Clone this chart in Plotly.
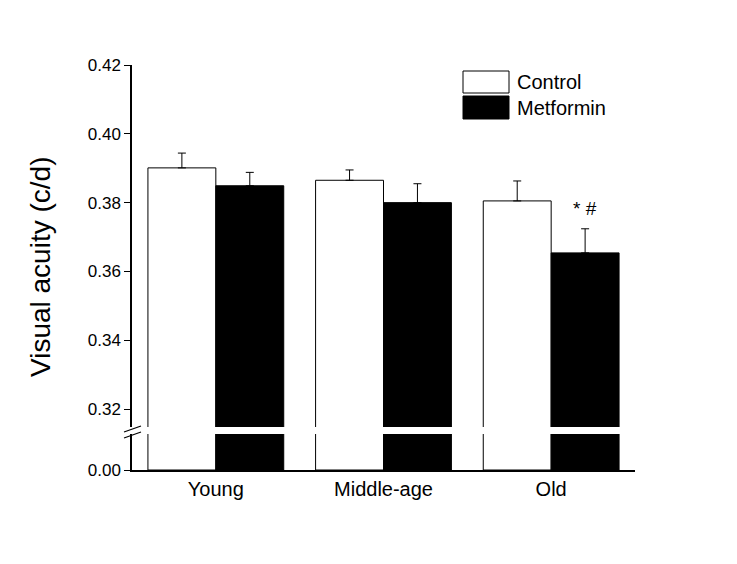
import plotly.graph_objects as go

categories = ["Young", "Middle-age", "Old"]
control_mean = [0.3901, 0.3865, 0.3805]
control_err = [0.0043, 0.0030, 0.0058]
metformin_mean = [0.3849, 0.3800, 0.3654]
metformin_err = [0.0039, 0.0055, 0.0070]
series_names = ["Control", "Metformin"]
upper_ticks = [0.32, 0.34, 0.36, 0.38, 0.40, 0.42]
sig_label = "* #"

FONT = "Arial, Liberation Sans, sans-serif"
W, H = 737, 564
OFF = 8  # page body margin
# desired on-screen plot box: x 132..635, y 65..470
L, T = 132 - OFF, 65 - OFF
R = W - (635 - OFF)
B = H - (470 - OFF)
pw, ph = W - L - R, H - T - B

def px(xs):
    return (xs - OFF - L) / pw

def py(ys):
    return (H - B - (ys - OFF)) / ph

fig = go.Figure()
fills = ["white", "black"]
means = [control_mean, metformin_mean]
errs = [control_err, metformin_err]
for i in range(2):
    fig.add_trace(go.Bar(
        x=categories, y=means[i], name=series_names[i], yaxis="y",
        marker=dict(color=fills[i], line=dict(color="black", width=1)),
        error_y=dict(type="data", symmetric=False, array=errs[i],
                     arrayminus=[0] * len(errs[i]), color="black",
                     thickness=1, width=4),
        offsetgroup=str(i), showlegend=False))
    fig.add_trace(go.Bar(
        x=categories, y=means[i], name=series_names[i], yaxis="y2",
        marker=dict(color=fills[i], line=dict(color="black", width=1)),
        offsetgroup=str(i), showlegend=False))

fig.update_layout(
    width=W, height=H,
    margin=dict(l=L, r=R, t=T, b=B),
    paper_bgcolor="white", plot_bgcolor="white",
    barmode="group", bargap=0.19, bargroupgap=0,
    font=dict(family=FONT, color="black"),
    xaxis=dict(anchor="y2", showline=True, linecolor="black", linewidth=1.5,
               ticks="", showgrid=False, range=[-0.5, 2.5],
               tickfont=dict(size=20, family=FONT)),
    yaxis=dict(domain=[py(427), 1], range=[0.3148, 0.42],
               tickvals=upper_ticks, tickformat=".2f",
               showline=True, linecolor="black", linewidth=1.5,
               ticks="outside", ticklen=6, tickwidth=1, tickcolor="black",
               showgrid=False, zeroline=False,
               tickfont=dict(size=17, family=FONT)),
    yaxis2=dict(domain=[0, py(434)], range=[0, 0.1],
                tickvals=[0], ticktext=["0.00"],
                showline=True, linecolor="black", linewidth=1.5,
                ticks="outside", ticklen=6, tickwidth=1, tickcolor="black",
                showgrid=False, zeroline=False,
                tickfont=dict(size=17, family=FONT)),
    showlegend=False,
)

for y0 in (432, 438):
    fig.add_shape(type="line", xref="paper", yref="paper",
                  x0=px(124), y0=py(y0), x1=px(141), y1=py(y0 - 6),
                  line=dict(color="black", width=1.2))

for i, (y_top, y_bot) in enumerate([(71, 93), (96, 119)]):
    fig.add_shape(type="rect", xref="paper", yref="paper",
                  x0=px(463), x1=px(509), y0=py(y_bot), y1=py(y_top),
                  fillcolor=fills[i], line=dict(color="black", width=1))
    fig.add_annotation(xref="paper", yref="paper", x=px(515),
                       y=py((y_top + y_bot) / 2), text=series_names[i],
                       showarrow=False, xanchor="left", yanchor="middle",
                       font=dict(size=20, family=FONT, color="black"))

fig.add_annotation(x=2.203, y=metformin_mean[2] + metformin_err[2],
                   xref="x", yref="y", text=sig_label, showarrow=False,
                   yanchor="bottom", yshift=8,
                   font=dict(size=19, family=FONT, color="black"))

fig.add_annotation(xref="paper", yref="paper", x=px(40), y=py(267),
                   text="Visual acuity (c/d)", textangle=-90, showarrow=False,
                   xanchor="center", yanchor="middle",
                   font=dict(size=28, family=FONT, color="black"))

fig.write_html("out.html")
